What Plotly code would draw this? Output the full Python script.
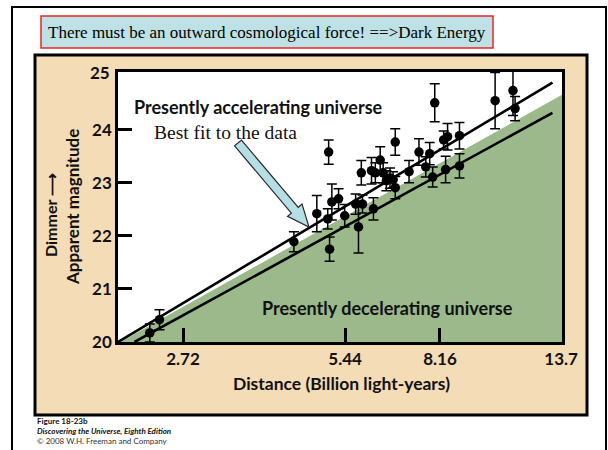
import math
import plotly.graph_objects as go

# ---------------- data ----------------
distance = [2.36, 2.46, 4.37, 4.82, 5.05, 5.09, 5.14, 5.29, 5.07, 5.43,
            5.69, 5.76, 5.86, 5.83, 6.09, 6.14, 6.19, 6.32, 6.40, 6.49,
            6.59, 6.68, 6.74, 6.74, 7.15, 7.46, 7.68, 7.81, 7.91, 7.98,
            8.29, 8.36, 8.43, 8.87, 8.87, 10.33, 11.15, 11.25]
magnitude = [20.17, 20.42, 21.89, 22.42, 22.32, 21.75, 22.64, 22.70, 23.58, 22.38,
             22.60, 22.17, 22.60, 23.19, 23.23, 22.51, 23.19, 23.43, 23.19, 23.04,
             23.09, 23.06, 22.91, 23.77, 23.21, 23.58, 23.30, 23.55, 23.11, 24.51,
             23.81, 23.25, 23.87, 23.89, 23.32, 24.55, 24.74, 24.40]
mag_error = [0.17, 0.19, 0.19, 0.34, 0.19, 0.23, 0.34, 0.19, 0.23, 0.21,
             0.19, 0.49, 0.17, 0.23, 0.25, 0.21, 0.19, 0.25, 0.19, 0.19,
             0.19, 0.15, 0.21, 0.25, 0.21, 0.25, 0.19, 0.21, 0.19, 0.36,
             0.17, 0.25, 0.25, 0.25, 0.23, 0.53, 0.47, 0.23]

accel_fit_distance = [2.06, 13.2]
accel_fit_magnitude = [20.0, 24.89]
decel_line_distance = [2.21, 13.2]
decel_line_magnitude = [20.0, 24.32]
decel_region_distance = [2.08, 13.75, 13.75]
decel_region_magnitude = [20.0, 24.66, 20.0]

x_tick_values = [2.72, 5.44, 8.16, 13.7]
x_tick_labels = ["2.72", "5.44", "8.16", "13.7"]
y_tick_values = [20, 21, 22, 23, 24]
y_tick_labels = ["20", "21", "22", "23", "24"]

# ---------------- layout geometry ----------------
W, H = 608, 450
L, R, T, B = 118, 46, 72, 108
PW, PH = W - L - R, H - T - B


def px(x):
    return (x - L) / PW


def py(y):
    return (H - B - y) / PH


SANS = "Lato"
SERIF = "Liberation Serif"
INK = "#111111"

fig = go.Figure()

fig.add_trace(go.Scatter(
    x=decel_region_distance, y=decel_region_magnitude, mode="lines",
    fill="toself", fillcolor="#9cb98b", line=dict(width=0),
    hoverinfo="skip", showlegend=False))

for xs, ys in [(accel_fit_distance, accel_fit_magnitude),
               (decel_line_distance, decel_line_magnitude)]:
    fig.add_trace(go.Scatter(x=xs, y=ys, mode="lines",
                             line=dict(color="black", width=2.6),
                             showlegend=False, hoverinfo="skip"))

fig.add_trace(go.Scatter(
    x=distance, y=magnitude, mode="markers",
    marker=dict(color="black", size=9.5),
    error_y=dict(type="data", array=mag_error, color="black",
                 thickness=1.5, width=5),
    showlegend=False))

shapes = []
# outer frame
shapes.append(dict(type="rect", xref="paper", yref="paper",
                   x0=px(12), x1=px(606), y0=py(470), y1=py(7),
                   line=dict(color="black", width=2), fillcolor="white",
                   layer="below"))
# tan panel
shapes.append(dict(type="rect", xref="paper", yref="paper",
                   x0=px(35), x1=px(587), y0=py(415), y1=py(55),
                   line=dict(color="black", width=3), fillcolor="#f4dcb6",
                   layer="below"))
# white plot area
shapes.append(dict(type="rect", xref="paper", yref="paper",
                   x0=0, x1=1, y0=0, y1=1,
                   line=dict(width=0), fillcolor="white", layer="below"))
# title box
shapes.append(dict(type="rect", xref="paper", yref="paper",
                   x0=px(41), x1=px(493), y0=py(48), y1=py(16),
                   line=dict(color="#e8262a", width=1.5), fillcolor="#bde1e4",
                   layer="below"))

# big arrow pointing to best-fit line
tail = (238.0, 143.0)
tip = (309.0, 227.0)
dx, dy = tip[0] - tail[0], tip[1] - tail[1]
ln = math.hypot(dx, dy)
ux, uy = dx / ln, dy / ln
nx, ny = -uy, ux
hw, hh, hl = 4.5, 9.5, 22.0
bx, by = tip[0] - ux * hl, tip[1] - uy * hl
pts = [
    (tail[0] + nx * hw, tail[1] + ny * hw),
    (bx + nx * hw, by + ny * hw),
    (bx + nx * hh, by + ny * hh),
    tip,
    (bx - nx * hh, by - ny * hh),
    (bx - nx * hw, by - ny * hw),
    (tail[0] - nx * hw, tail[1] - ny * hw),
]
path = "M " + " L ".join(f"{px(a):.5f},{py(b):.5f}" for a, b in pts) + " Z"
shapes.append(dict(type="path", xref="paper", yref="paper", path=path,
                   fillcolor="#b6dfe5", line=dict(color="#2a2a2a", width=1.2),
                   layer="above"))

annotations = [
    dict(text="There must be an outward cosmological force! ==>Dark Energy",
         x=px(267), y=py(32), font=dict(family=SERIF, size=17, color="black")),
    dict(text="<b>Presently accelerating universe</b>",
         x=px(258), y=py(107), font=dict(family=SANS, size=18, color=INK)),
    dict(text="Best fit to the data",
         x=px(225), y=py(132), font=dict(family=SERIF, size=19.5, color=INK)),
    dict(text="<b>Presently decelerating universe</b>",
         x=px(387), y=py(308), font=dict(family=SANS, size=18, color=INK)),
    dict(text="<b>25</b>", x=px(112), y=py(72), xanchor="right",
         font=dict(family=SANS, size=17, color=INK)),
    dict(text="<b>Apparent magnitude</b>", x=px(72), y=py(207), textangle=-90,
         font=dict(family=SANS, size=17, color=INK)),
    dict(text="<b>Dimmer ⟶</b>", x=px(50), y=py(215), textangle=-90,
         font=dict(family=SANS, size=16, color=INK)),
    dict(text="<b>Distance (Billion light-years)</b>", x=px(341), y=py(383),
         font=dict(family=SANS, size=17.5, color=INK)),
    dict(text="<b>Figure 18-23b</b>", x=px(35), y=py(421), xanchor="left",
         font=dict(family=SANS, size=8, color=INK)),
    dict(text="<b><i>Discovering the Universe, Eighth Edition</i></b>",
         x=px(35), y=py(431), xanchor="left",
         font=dict(family=SANS, size=8, color=INK)),
    dict(text="© 2008 W.H. Freeman and Company", x=px(35), y=py(441),
         xanchor="left", font=dict(family=SANS, size=8, color="#333333")),
]
for a in annotations:
    a.update(xref="paper", yref="paper", showarrow=False)
    a.setdefault("xanchor", "center")
    a.setdefault("yanchor", "middle")

fig.update_layout(
    width=W, height=H,
    margin=dict(l=L, r=R, t=T, b=B, pad=0),
    paper_bgcolor="white", plot_bgcolor="rgba(0,0,0,0)",
    shapes=shapes, annotations=annotations, showlegend=False,
    xaxis=dict(type="log", range=[math.log10(2.06), math.log10(13.75)],
               tickvals=x_tick_values, ticktext=x_tick_labels,
               ticks="inside", ticklen=14, tickwidth=2.5, tickcolor="black",
               showline=True, linecolor="black", linewidth=2.5, mirror=True,
               showgrid=False, zeroline=False,
               tickfont=dict(family=SANS, size=17, color=INK, weight="bold")),
    yaxis=dict(range=[20, 25.09],
               tickvals=y_tick_values, ticktext=y_tick_labels,
               ticks="inside", ticklen=14, tickwidth=2.5, tickcolor="black",
               showline=True, linecolor="black", linewidth=2.5, mirror=True,
               showgrid=False, zeroline=False,
               tickfont=dict(family=SANS, size=17, color=INK, weight="bold")),
)

fig.write_html(
    "out.html",
    config={"displayModeBar": False},
    post_script="document.body.style.margin='0px';"
                "document.body.style.overflow='hidden';",
)
